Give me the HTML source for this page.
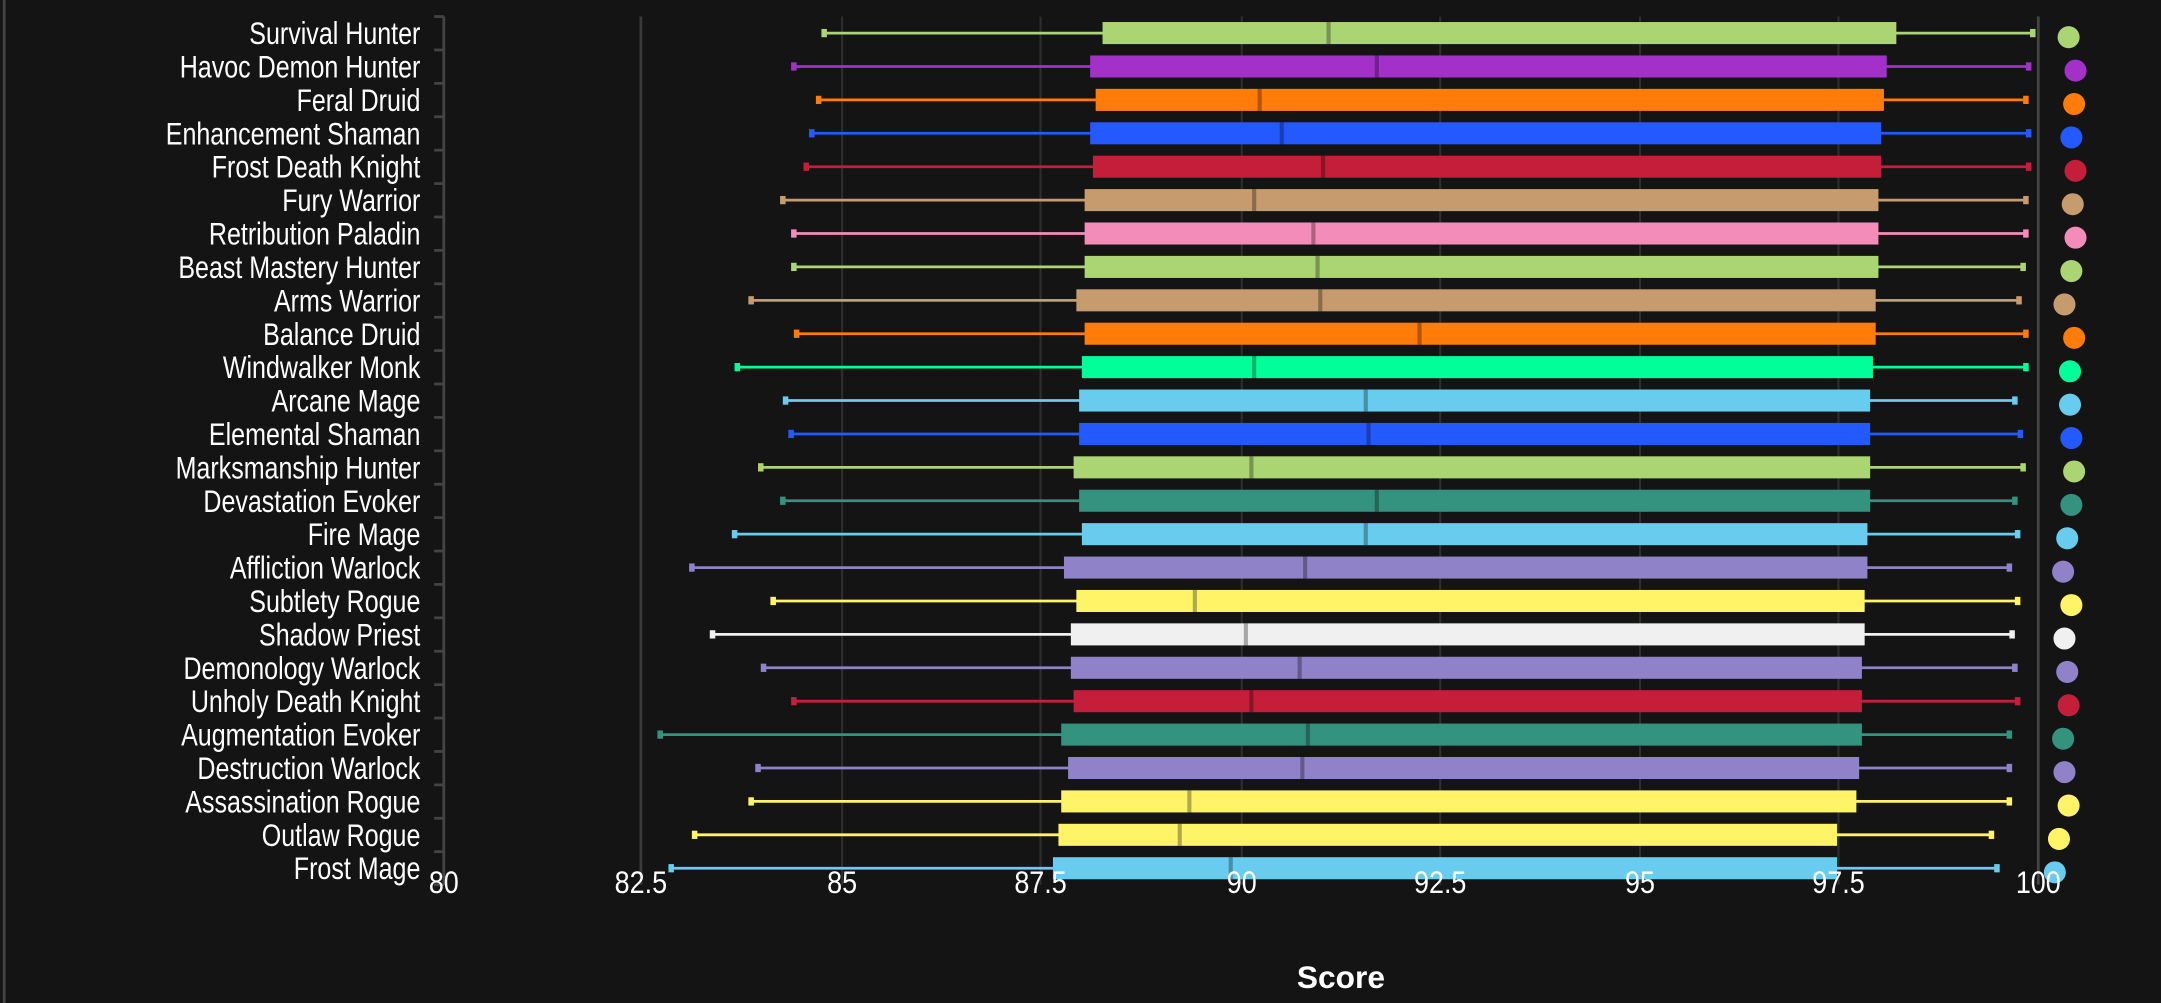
<!DOCTYPE html>
<html><head><meta charset="utf-8"><style>html,body{margin:0;padding:0;background:#141414;overflow:hidden}svg{display:block}</style></head>
<body>
<div id="wrap"></div>
<script>
var d=[["Survival Hunter",597,800,964,1376,1476,1501,"#abd473"],["Havoc Demon Hunter",575,791,999,1369,1473,1506,"#a330c9"],["Feral Druid",593,795,914,1367,1471,1505,"#ff7c0a"],["Enhancement Shaman",588,791,930,1365,1473,1503,"#2459ff"],["Frost Death Knight",584,793,960,1365,1473,1506,"#c41e3a"],["Fury Warrior",567,787,910,1363,1471,1504,"#c69b6d"],["Retribution Paladin",575,787,953,1363,1471,1506,"#f48cba"],["Beast Mastery Hunter",575,787,956,1363,1469,1503,"#abd473"],["Arms Warrior",544,781,958,1361,1466,1498,"#c69b6d"],["Balance Druid",577,787,1030,1361,1471,1505,"#ff7c0a"],["Windwalker Monk",534,785,910,1359,1471,1502,"#00ff98"],["Arcane Mage",569,783,991,1357,1463,1502,"#68ccef"],["Elemental Shaman",573,783,993,1357,1467,1503,"#2459ff"],["Marksmanship Hunter",551,779,908,1357,1469,1505,"#abd473"],["Devastation Evoker",567,783,999,1357,1463,1503,"#33937f"],["Fire Mage",532,785,991,1355,1465,1500,"#68ccef"],["Affliction Warlock",501,772,947,1355,1459,1497,"#8f82c9"],["Subtlety Rogue",560,781,867,1353,1465,1503,"#fff468"],["Shadow Priest",516,777,904,1353,1461,1498,"#f0f0f0"],["Demonology Warlock",553,777,943,1351,1463,1500,"#8f82c9"],["Unholy Death Knight",575,779,908,1351,1465,1501,"#c41e3a"],["Augmentation Evoker",478,770,949,1351,1459,1497,"#33937f"],["Destruction Warlock",549,775,945,1349,1459,1498,"#8f82c9"],["Assassination Rogue",544,770,863,1347,1459,1501,"#fff468"],["Outlaw Rogue",503,768,856,1333,1446,1494,"#fff468"],["Frost Mage",486,764,893,1333,1450,1491,"#68ccef"]];
var s='<svg width="2161" height="1003" viewBox="0 0 1568 727.8" xmlns="http://www.w3.org/2000/svg" font-family="Liberation Sans, sans-serif">';
s+='<rect width="1568" height="728" fill="#141414"/>';
s+='<line x1="3" y1="0" x2="3" y2="728" stroke="#444" stroke-width="2"/>';
var gx=[611,755,901,1045,1190,1334];
for(var k=0;k<gx.length;k++)s+='<line x1="'+gx[k]+'" y1="12" x2="'+gx[k]+'" y2="642" stroke="#2e2e2e" stroke-width="1.5"/>';
s+='<line x1="465" y1="12" x2="465" y2="642" stroke="#3a3a3a" stroke-width="2"/>';
s+='<line x1="1479" y1="12" x2="1479" y2="642" stroke="#444" stroke-width="2"/>';
s+='<line x1="322" y1="12" x2="322" y2="642" stroke="#444" stroke-width="2"/>';
for(var i=0;i<d.length;i++){var r=d[i],y=24+i*24.24,c=r[7];
s+='<line x1="'+r[1]+'" y1="'+y+'" x2="'+r[5]+'" y2="'+y+'" stroke="'+c+'" stroke-width="2"/>';
s+='<rect x="'+(r[1]-1)+'" y="'+(y-3)+'" width="4" height="6" fill="'+c+'"/>';
s+='<rect x="'+(r[5]-3)+'" y="'+(y-3)+'" width="4" height="6" fill="'+c+'"/>';
s+='<rect x="'+r[2]+'" y="'+(y-8)+'" width="'+(r[4]-r[2])+'" height="16" fill="'+c+'"/>';
s+='<rect x="'+(r[3]-1.5)+'" y="'+(y-8)+'" width="3" height="16" fill="rgba(0,0,0,0.3)"/>';
s+='<circle cx="'+r[6]+'" cy="'+(y+3)+'" r="8" fill="'+c+'"/>';
s+='<line x1="315" y1="'+(y-12)+'" x2="322" y2="'+(y-12)+'" stroke="#444" stroke-width="2"/>';
s+='<text transform="translate(305,'+(y+8)+') scale(0.79,1)" text-anchor="end" fill="#fff" font-size="23">'+r[0]+'</text>';}
s+='<line x1="315" y1="642" x2="322" y2="642" stroke="#444" stroke-width="2"/>';
var tl=[[322,"80"],[465,"82.5"],[611,"85"],[755,"87.5"],[901,"90"],[1045,"92.5"],[1190,"95"],[1334,"97.5"],[1479,"100"]];
for(var k=0;k<tl.length;k++)s+='<text transform="translate('+tl[k][0]+',648) scale(0.85,1)" fill="#fff" font-size="23" text-anchor="middle">'+tl[k][1]+'</text>';
s+='<text x="973" y="717" fill="#fff" font-weight="bold" font-size="23" text-anchor="middle">Score</text>';
s+='</svg>';
document.getElementById("wrap").innerHTML=s;
</script>
</body></html>
